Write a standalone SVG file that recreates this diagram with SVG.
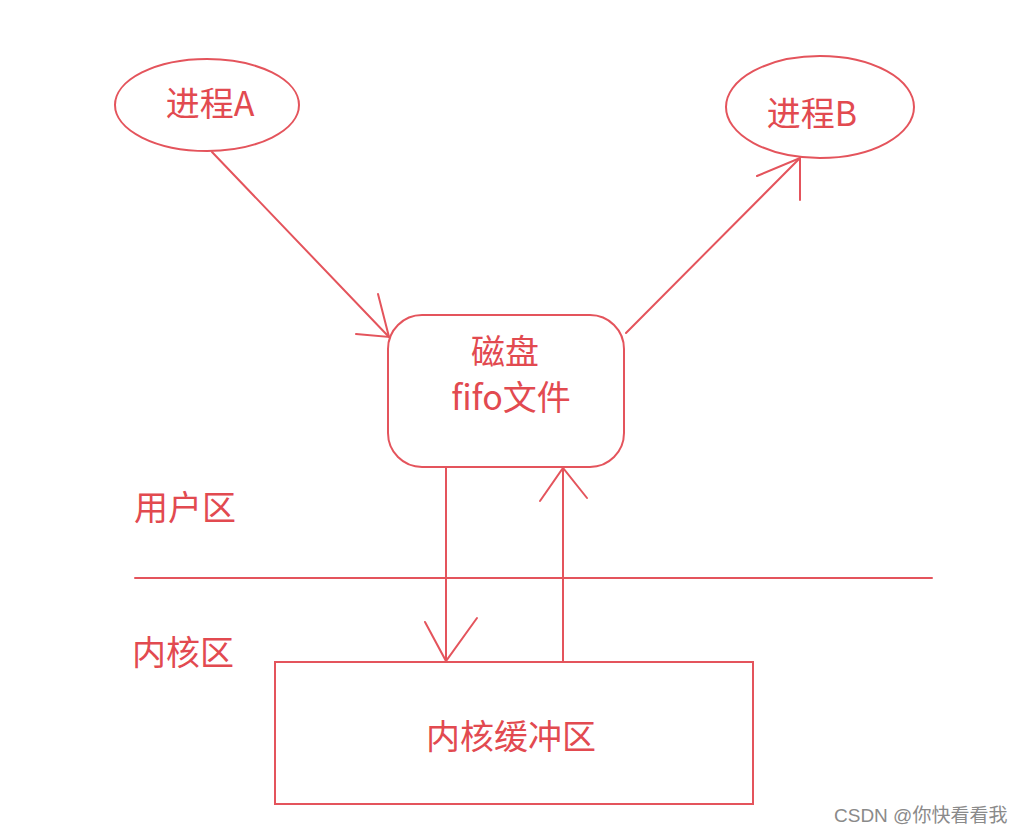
<svg xmlns="http://www.w3.org/2000/svg" width="1024" height="835" viewBox="0 0 1024 835">
<style>
.s{fill:none;stroke:#e4545c;stroke-width:2;stroke-linecap:round}
.t{fill:#e24a50;font-family:"Microsoft YaHei","Noto Sans CJK SC",sans-serif;font-size:34px;text-anchor:middle}
.l{text-anchor:start}
.w{fill:#8a8a8a;font-family:"Liberation Sans","Noto Sans CJK SC",sans-serif;font-size:19px}
</style>
<rect width="1024" height="835" fill="#ffffff"/>
<g id="procA">
<ellipse class="s" cx="207" cy="105" rx="92" ry="46"/>
<text class="t" x="210" y="116">进程A</text>
</g>
<g id="procB">
<ellipse class="s" cx="820" cy="107" rx="94" ry="51"/>
<text class="t" x="812" y="126">进程B</text>
</g>
<g id="fifo">
<rect class="s" x="388" y="315" width="236" height="152" rx="34"/>
<text class="t" x="505" y="364">磁盘</text>
<text class="t" x="511" y="410">fifo文件</text>
</g>
<g id="userzone"><text class="t l" x="134" y="520">用户区</text></g>
<g id="kernelzone"><text class="t l" x="132" y="665">内核区</text></g>
<g id="kbuf">
<rect class="s" x="275" y="662" width="478" height="142"/>
<text class="t" x="511" y="749">内核缓冲区</text>
</g>
<g id="connectors">
<line class="s" x1="135" y1="578" x2="932" y2="578"/>
<line class="s" x1="212" y1="152" x2="389" y2="337"/>
<polyline class="s" points="378,294 389,337 356,334"/>
<line class="s" x1="626" y1="333" x2="800" y2="158"/>
<polyline class="s" points="757,176 800,158 800,200"/>
<line class="s" x1="446" y1="467" x2="446" y2="661"/>
<polyline class="s" points="425,622 446,661 477,618"/>
<line class="s" x1="563" y1="662" x2="563" y2="468"/>
<polyline class="s" points="540,501 563,468 587,498"/>
</g>
<text class="w" x="834" y="822">CSDN @你快看看我</text>
</svg>
